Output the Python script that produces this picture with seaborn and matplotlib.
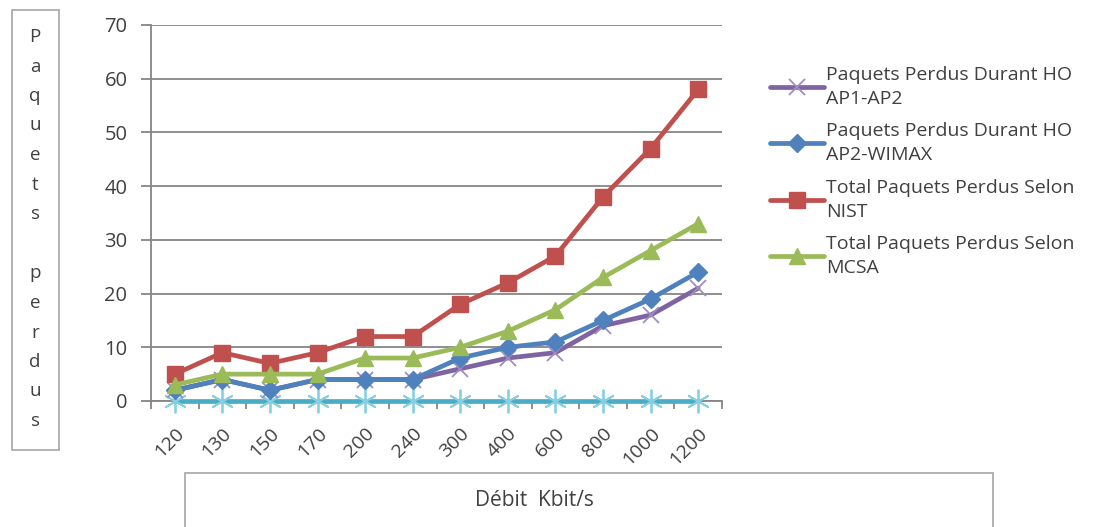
import matplotlib
matplotlib.use("Agg")
import matplotlib.pyplot as plt
import seaborn as sns
import pandas as pd
from matplotlib.patches import Rectangle

# ---- data ----
debits = ["120", "130", "150", "170", "200", "240", "300", "400", "600", "800", "1000", "1200"]
ap1_ap2 = [2, 4, 2, 4, 4, 4, 6, 8, 9, 14, 16, 21]
ap2_wimax = [2, 4, 2, 4, 4, 4, 8, 10, 11, 15, 19, 24]
nist = [5, 9, 7, 9, 12, 12, 18, 22, 27, 38, 47, 58]
mcsa = [3, 5, 5, 5, 8, 8, 10, 13, 17, 23, 28, 33]
zero_series = [0, 0, 0, 0, 0, 0, 0, 0, 0, 0, 0, 0]

labels = ["Paquets Perdus Durant HO\nAP1-AP2",
          "Paquets Perdus Durant HO\nAP2-WIMAX",
          "Total Paquets Perdus Selon\nNIST",
          "Total Paquets Perdus Selon\nMCSA"]
y_tick_values = [0, 10, 20, 30, 40, 50, 60, 70]
ylabel_text = "Paquets perdus"
xlabel_text = "Débit  Kbit/s"

sns.set_theme(style="white")
plt.rcParams['font.family'] = ['Open Sans', 'DejaVu Sans']
TXT = "#404040"

fig = plt.figure(figsize=(11.01, 5.27), dpi=100)
W, H = 1101, 527
ax = fig.add_axes([151 / W, 1 - 401 / H, (722 - 151) / W, (401 - 25) / H])

series = [
    (zero_series, "#4BACC6", (6, 2, 0), 17, "#86CFE0", None),
    (ap1_ap2, "#8064A2", "x", 11, "#A08CC0", labels[0]),
    (ap2_wimax, "#4F81BD", "D", 9, "#4F81BD", labels[1]),
    (nist, "#C0504D", "s", 11, "#C0504D", labels[2]),
    (mcsa, "#9BBB59", "^", 11, "#9BBB59", labels[3]),
]
order = [1, 2, 3, 4, 0]
handles = []
for i in order:
    vals, col, mk, ms, ec, lab = series[i]
    d = pd.DataFrame({"x": debits, "y": vals})
    n_before = len(ax.lines)
    sns.lineplot(data=d, x="x", y="y", ax=ax, color=col, sort=False, linewidth=3.4, zorder=3 + i)
    ln = ax.lines[n_before]
    ln.set_marker(mk)
    ln.set_markersize(ms)
    ln.set_markerfacecolor(col)
    ln.set_markeredgecolor(ec)
    ln.set_markeredgewidth(1.3 if mk in ("x", (6, 2, 0)) else 1)
    ln.set_clip_on(False)
    if lab:
        ln.set_label(lab)
        handles.append(ln)
if ax.get_legend() is not None:
    ax.get_legend().remove()

ax.set_xlim(-0.5, len(debits) - 0.5)
ax.set_ylim(0, 70)
ax.set_yticks(y_tick_values)
ax.set_xticks(range(len(debits)))
ax.set_xticklabels(debits, rotation=45, ha="right", rotation_mode="anchor", color=TXT, fontsize=14)
ax.set_xticks([k - 0.5 for k in range(len(debits) + 1)], minor=True)
ax.tick_params(axis="x", which="major", length=0, pad=17)
ax.tick_params(axis="x", which="minor", length=6, width=1.3, color="#868686", direction="out", bottom=True)
ax.tick_params(axis="y", length=7, width=1.3, color="#868686", direction="out", left=True,
               labelsize=14.5, labelcolor=TXT, pad=10)
ax.yaxis.grid(True, color="#868686", linewidth=1.3)
ax.set_axisbelow(True)
for s in ["top", "right"]:
    ax.spines[s].set_visible(False)
ax.spines["left"].set_color("#868686")
ax.spines["left"].set_linewidth(1.3)
ax.spines["bottom"].set_color("#868686")
ax.spines["bottom"].set_linewidth(1.3)
ax.set_xlabel("")
ax.set_ylabel("")

# legend
leg = fig.legend(handles, [h.get_label() for h in handles], loc="upper left",
                 bbox_to_anchor=(762 / W, 1 - 58 / H),
                 frameon=False, fontsize=14, handlelength=2.8, handletextpad=0.1,
                 labelspacing=0.75, labelcolor=TXT, borderaxespad=0)
for t in leg.get_texts():
    t.set_linespacing(1.42)

# y label box
fig.patches.append(Rectangle((12 / W, 1 - 450 / H), 47 / W, 440 / H, transform=fig.transFigure,
                             fill=False, edgecolor="#A6A6A6", linewidth=1.2))
ys = 37
for ch in ylabel_text:
    if ch != " ":
        fig.text(35 / W, 1 - ys / H, ch, ha="center", va="center", fontsize=13.5, color=TXT)
        ys += 29.5
    else:
        ys += 30

# x label box
fig.patches.append(Rectangle((185 / W, -0.02), (993 - 185) / W, 1 - 473 / H + 0.02, transform=fig.transFigure,
                             fill=False, edgecolor="#A6A6A6", linewidth=1.2))
fig.text(534 / W, 1 - 500 / H, xlabel_text, ha="center", va="center", fontsize=15, color=TXT)

fig.savefig("out.png", dpi=100)
